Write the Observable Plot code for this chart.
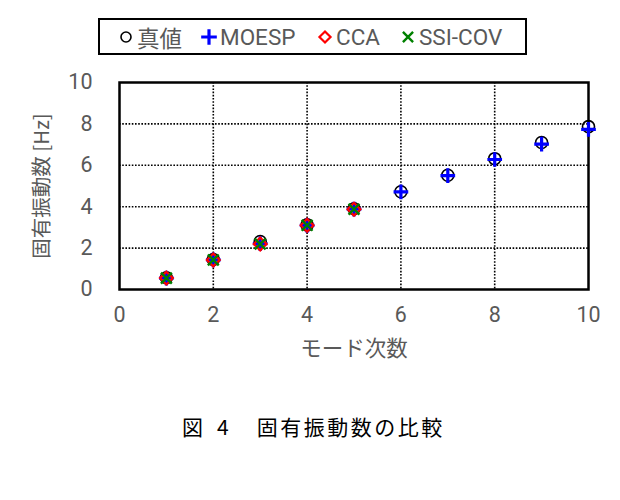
<!DOCTYPE html>
<html><head><meta charset="utf-8">
<script src="https://cdn.jsdelivr.net/npm/d3@7"></script>
<script src="https://cdn.jsdelivr.net/npm/@observablehq/plot@0.6"></script>
<style>
body{margin:0;background:#fff;width:620px;height:500px;position:relative;overflow:hidden;font-family:"Noto Sans CJK JP","Liberation Sans",sans-serif;}
#legend{position:absolute;left:98px;top:18px;width:425px;height:33px;border:2px solid #000;font-size:22.5px;color:#595959;font-family:Roboto,"Noto Sans CJK JP",sans-serif;}
#legend .item{display:flex;align-items:center;position:absolute;top:0;height:33px;}
#legend svg{margin-right:3px;}
#chart{position:absolute;left:0;top:60px;}
#caption{position:absolute;left:182px;top:411px;font-size:21px;line-height:30px;color:#000;font-family:"Noto Sans CJK JP",sans-serif;white-space:nowrap;}
#caption span{display:inline-block;}
</style></head>
<body>
<div id="legend"></div>
<div id="chart"></div>
<div id="caption"><span style="margin-right:14px">図</span><span style="margin-right:28px">4</span><span style="letter-spacing:2.5px">固有振動数の比較</span></div>
<script>
const modes = [1,2,3,4,5,6,7,8,9,10];
const trueVals = [0.57,1.45,2.32,3.12,3.9,4.72,5.52,6.32,7.1,7.87];
const moesp = [0.55,1.43,2.22,3.1,3.88,4.72,5.5,6.28,7.02,7.74];
const ccaModes = [1,2,3,4,5];
const cca = [0.55,1.43,2.2,3.1,3.88];
const ssiModes = [1,2,3,4,5];
const ssicov = [0.55,1.43,2.2,3.1,3.88];
const seriesNames = ["真値","MOESP","CCA","SSI-COV"];
const xTicks = [0,2,4,6,8,10];
const yTicks = [0,2,4,6,8,10];

const toRows = (xs, ys) => xs.map((x,i)=>({x, y: ys[i]}));
const tRows = toRows(modes, trueVals);
const mRows = toRows(modes, moesp);
const cRows = toRows(ccaModes, cca);
const sRows = toRows(ssiModes, ssicov);

const tickFont = "Roboto, Liberation Sans, sans-serif";
const plot = Plot.plot({
  width: 620, height: 320,
  marginLeft: 119, marginRight: 32, marginTop: 22, marginBottom: 91,
  style: {fontSize: "21.5px", fontFamily: tickFont, color: "#595959", background: "white"},
  x: {domain: [0,10], ticks: xTicks, tickSize: 0, tickPadding: 17, label: null},
  y: {domain: [0,10], ticks: yTicks, tickSize: 0, tickPadding: 27, label: null},
  marks: [
    Plot.gridX([2,4,6,8], {stroke: "#000", strokeOpacity: 1, strokeWidth: 1.6, strokeDasharray: "1.6,1.6"}),
    Plot.gridY([2,4,6,8], {stroke: "#000", strokeOpacity: 1, strokeWidth: 1.6, strokeDasharray: "1.6,1.6"}),
    Plot.frame({stroke: "#000", strokeWidth: 2.5}),
    Plot.axisX({ticks: xTicks, tickSize: 0, tickPadding: 17, label: null, fill: "#595959"}),
    Plot.axisY({ticks: yTicks, tickSize: 0, tickPadding: 27, label: null, fill: "#595959"}),
    Plot.text(["モード次数"], {frameAnchor: "bottom", dy: 66, fontSize: 21.5, fill: "#595959", fontFamily: "Noto Sans CJK JP"}),
    Plot.text(["固有振動数 [Hz]"], {frameAnchor: "left", textAnchor: "middle", dx: -77, rotate: -90, fontSize: 20.5, fill: "#595959", fontFamily: "Noto Sans CJK JP"}),
    Plot.dot(tRows, {x: "x", y: "y", r: 6, symbol: "circle", stroke: "#000", strokeWidth: 1.6, fill: "none"}),
    Plot.dot(mRows, {x: "x", y: "y", r: 4.8, symbol: "plus", stroke: "#0000ff", strokeWidth: 3.2, fill: "none"}),
    Plot.dot(cRows, {x: "x", y: "y", r: 5.8, symbol: "diamond2", stroke: "#ff0000", strokeWidth: 2.2, fill: "none"}),
    Plot.dot(sRows, {x: "x", y: "y", r: 5, symbol: "times", stroke: "#008000", strokeWidth: 2.4, fill: "none"})
  ]
});
document.getElementById("chart").appendChild(plot);

// legend
const legendSpecs = [
  {sym: d3.symbolCircle, size: Math.PI*25, stroke:"#000", fill:"none", sw:1.6, x: 26},
  {sym: d3.symbolPlus, size: Math.PI*26, stroke:"#0000ff", fill:"none", sw:3.2, x: 109},
  {sym: d3.symbolDiamond2, size: Math.PI*25, stroke:"#ff0000", fill:"none", sw:2.2, x: 225},
  {sym: d3.symbolTimes, size: Math.PI*22, stroke:"#008000", fill:"none", sw:2.4, x: 308}
];
const leg = document.getElementById("legend");
legendSpecs.forEach((s,i)=>{
  const item = document.createElement("div");
  item.className = "item";
  item.style.left = (s.x - 8) + "px";
  const path = d3.symbol(s.sym, s.size)();
  item.innerHTML = `<svg width="16" height="16" viewBox="-8 -8 16 16"><path d="${path}" stroke="${s.stroke}" fill="${s.fill}" stroke-width="${s.sw}"/></svg><span>${seriesNames[i]}</span>`;
  leg.appendChild(item);
});
</script>
</body></html>
